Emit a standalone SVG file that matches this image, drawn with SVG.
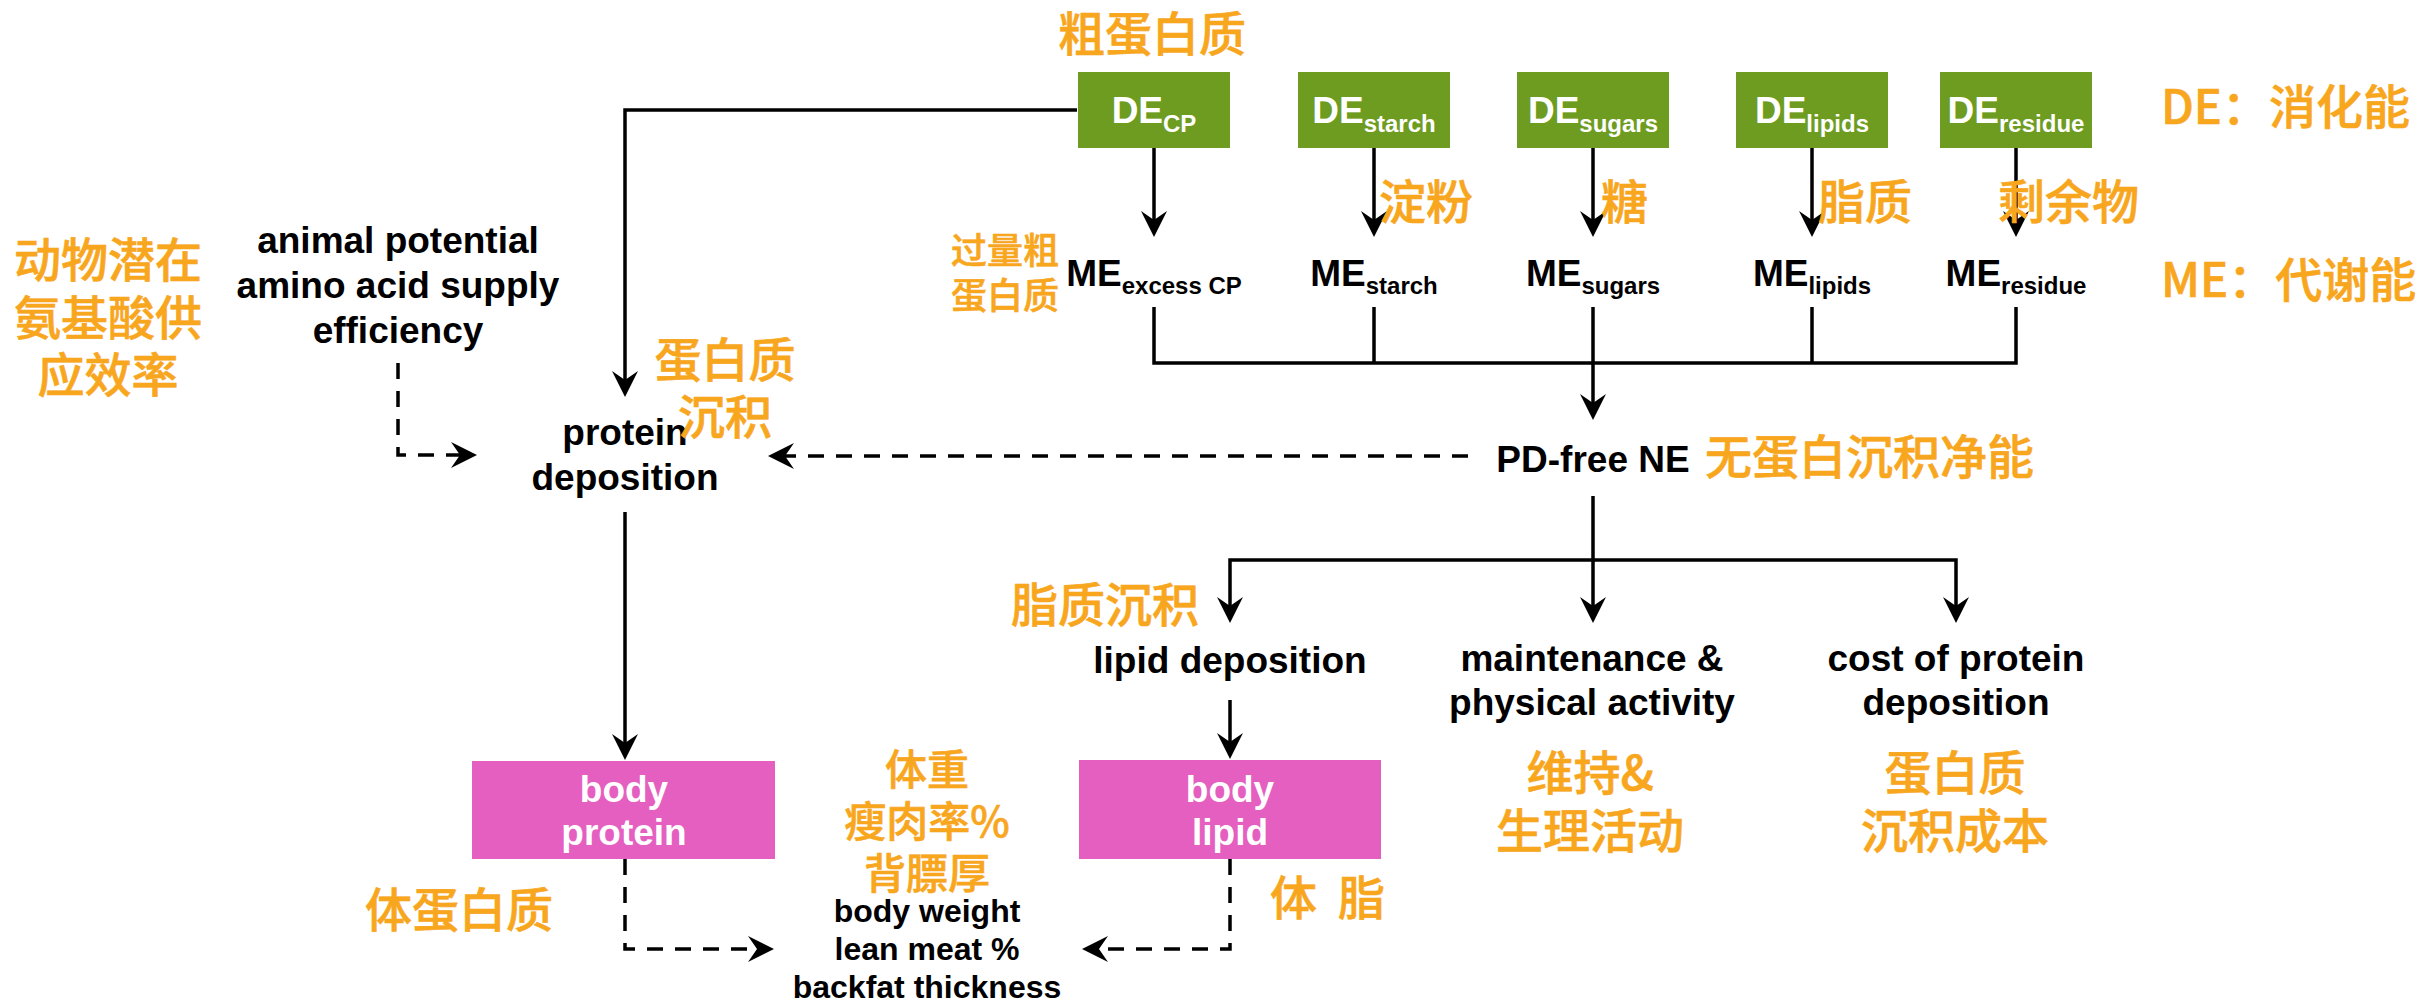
<svg xmlns="http://www.w3.org/2000/svg" width="2417" height="1003" viewBox="0 0 2417 1003">
<style>
.t{font-family:"Liberation Sans",Arial,sans-serif;font-weight:bold;font-size:37px;fill:#000;text-anchor:middle}
.w{fill:#fff}
.s{font-size:24px}
.cn{font-family:"Noto Sans CJK SC","Noto Sans",sans-serif;font-weight:500;font-size:47px;fill:#F8A61E;stroke:#F8A61E;stroke-width:0.6px}
.c{text-anchor:middle}
.ln{fill:none;stroke:#000;stroke-width:3.5}
.ar{marker-end:url(#arr)}
.da{stroke-dasharray:16 12}
.g{fill:#6E9C21}
.p{fill:#E55FC0}
</style>
<defs>
<marker id="arr" markerUnits="userSpaceOnUse" viewBox="-30 -16 32 32" markerWidth="32" markerHeight="32" refX="-10" refY="0" orient="auto">
<path d="M0,0 L-26,-13 L-17,0 L-26,13 Z" fill="#000"/>
</marker>
</defs>
<rect width="2417" height="1003" fill="#fff"/>

<g id="connectors">
<path class="ln ar" d="M1077,110 H625 V387"/>
<path class="ln ar" d="M1154,148 V227"/>
<path class="ln ar" d="M1374,148 V227"/>
<path class="ln ar" d="M1593,148 V227"/>
<path class="ln ar" d="M1812,148 V227"/>
<path class="ln ar" d="M2016,148 V227"/>
<path class="ln" d="M1154,307 V363 H2016 V307 M1374,307 V363 M1593,307 V363 M1812,307 V363"/>
<path class="ln ar" d="M1593,363 V410"/>
<path class="ln da ar" d="M1468,456 H778"/>
<path class="ln da ar" d="M398,363 V455 H467"/>
<path class="ln ar" d="M1593,496 V560 H1230 V613"/>
<path class="ln ar" d="M1593,560 H1956 V613"/>
<path class="ln ar" d="M1593,560 V613"/>
<path class="ln ar" d="M625,512 V750"/>
<path class="ln ar" d="M1230,700 V749"/>
<path class="ln da ar" d="M625,859 V949 H764"/>
<path class="ln da ar" d="M1230,859 V949 H1092"/>
</g>

<g id="de-cp"><rect class="g" x="1078" y="72" width="152" height="76"/><text class="t w" x="1154" y="123">DE<tspan class="s" dy="9">CP</tspan></text></g>
<g id="de-starch"><rect class="g" x="1298" y="72" width="152" height="76"/><text class="t w" x="1374" y="123">DE<tspan class="s" dy="9">starch</tspan></text></g>
<g id="de-sugars"><rect class="g" x="1517" y="72" width="152" height="76"/><text class="t w" x="1593" y="123">DE<tspan class="s" dy="9">sugars</tspan></text></g>
<g id="de-lipids"><rect class="g" x="1736" y="72" width="152" height="76"/><text class="t w" x="1812" y="123">DE<tspan class="s" dy="9">lipids</tspan></text></g>
<g id="de-residue"><rect class="g" x="1940" y="72" width="152" height="76"/><text class="t w" x="2016" y="123">DE<tspan class="s" dy="9">residue</tspan></text></g>

<g id="me-cp"><text class="t" x="1154" y="286">ME<tspan class="s" dy="8">excess CP</tspan></text></g>
<g id="me-starch"><text class="t" x="1374" y="286">ME<tspan class="s" dy="8">starch</tspan></text></g>
<g id="me-sugars"><text class="t" x="1593" y="286">ME<tspan class="s" dy="8">sugars</tspan></text></g>
<g id="me-lipids"><text class="t" x="1812" y="286">ME<tspan class="s" dy="8">lipids</tspan></text></g>
<g id="me-residue"><text class="t" x="2016" y="286">ME<tspan class="s" dy="8">residue</tspan></text></g>

<g id="pd-free-ne"><text class="t" x="1593" y="472">PD-free NE</text></g>
<g id="animal-aa"><text class="t" x="398" y="253">animal potential</text><text class="t" x="398" y="298">amino acid supply</text><text class="t" x="398" y="343">efficiency</text></g>
<g id="protein-deposition"><text class="t" x="625" y="445">protein</text><text class="t" x="625" y="490">deposition</text></g>
<g id="lipid-deposition"><text class="t" x="1230" y="673">lipid deposition</text></g>
<g id="maintenance"><text class="t" x="1592" y="671">maintenance &amp;</text><text class="t" x="1592" y="715">physical activity</text></g>
<g id="cost-pd"><text class="t" x="1956" y="671">cost of protein</text><text class="t" x="1956" y="715">deposition</text></g>
<g id="body-protein"><rect class="p" x="472" y="761" width="303" height="98"/><text class="t w" x="624" y="802">body</text><text class="t w" x="624" y="845">protein</text></g>
<g id="body-lipid"><rect class="p" x="1079" y="760" width="302" height="99"/><text class="t w" x="1230" y="802">body</text><text class="t w" x="1230" y="845">lipid</text></g>
<g id="body-measures"><text class="t" x="927" y="922" style="font-size:32px">body weight</text><text class="t" x="927" y="960" style="font-size:32px">lean meat %</text><text class="t" x="927" y="998" style="font-size:32px">backfat thickness</text></g>

<g id="labels-cn">
<text class="cn c" x="1152" y="51">粗蛋白质</text>
<text class="cn" x="2161" y="124">DE：消化能</text>
<text class="cn" x="2161" y="297">ME：代谢能</text>
<text class="cn" x="1379" y="219">淀粉</text>
<text class="cn" x="1601" y="219">糖</text>
<text class="cn" x="1818" y="219">脂质</text>
<text class="cn" x="1998" y="219">剩余物</text>
<text class="cn" x="951" y="264" style="font-size:36px">过量粗</text>
<text class="cn" x="951" y="309" style="font-size:36px">蛋白质</text>
<text class="cn c" x="108" y="277">动物潜在</text>
<text class="cn c" x="108" y="335">氨基酸供</text>
<text class="cn c" x="108" y="392">应效率</text>
<text class="cn c" x="725" y="377">蛋白质</text>
<text class="cn c" x="725" y="434">沉积</text>
<text class="cn" x="1705" y="474">无蛋白沉积净能</text>
<text class="cn" x="1011" y="622">脂质沉积</text>
<text class="cn c" x="927" y="785" style="font-size:42px">体重</text>
<text class="cn c" x="927" y="837" style="font-size:42px">瘦肉率%</text>
<text class="cn c" x="927" y="889" style="font-size:42px">背膘厚</text>
<text class="cn" x="365" y="927">体蛋白质</text>
<text class="cn" y="915"><tspan x="1270">体</tspan><tspan x="1338">脂</tspan></text>
<text class="cn c" x="1590" y="790">维持&amp;</text>
<text class="cn c" x="1590" y="848">生理活动</text>
<text class="cn c" x="1955" y="790">蛋白质</text>
<text class="cn c" x="1955" y="848">沉积成本</text>
</g>
</svg>
